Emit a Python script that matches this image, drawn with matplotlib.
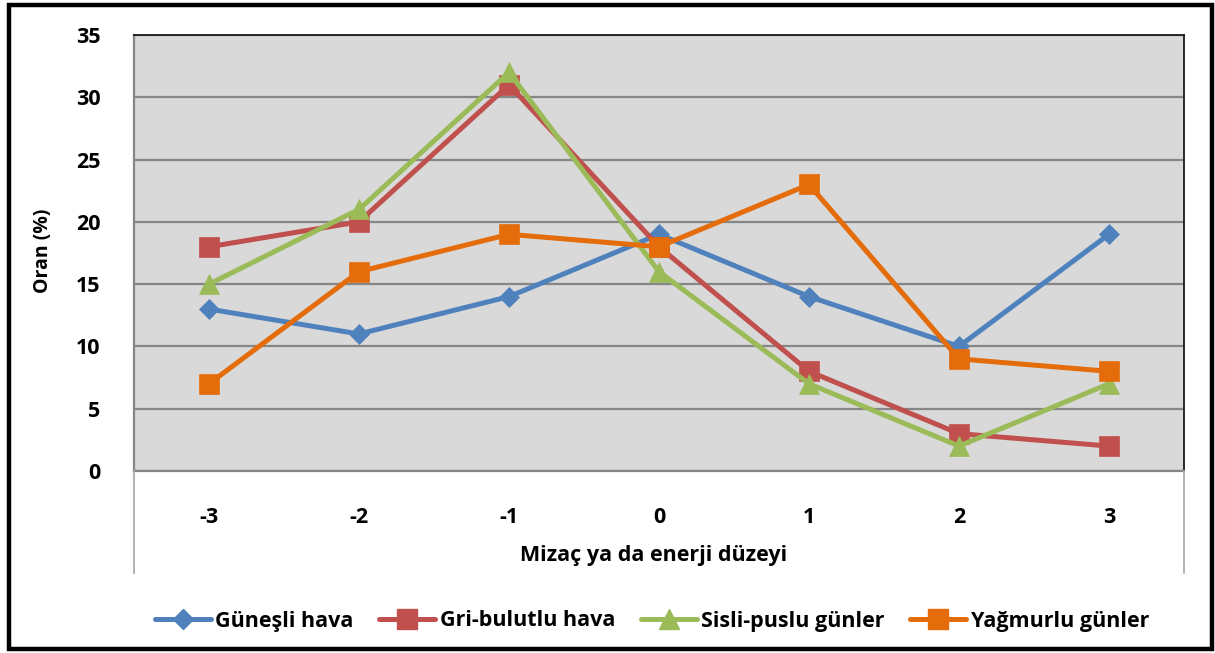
import matplotlib
matplotlib.use("Agg")
import matplotlib.pyplot as plt
from matplotlib.patches import Rectangle
from matplotlib.lines import Line2D

# Data
levels = ["-3", "-2", "-1", "0", "1", "2", "3"]
gunesli = [13, 11, 14, 19, 14, 10, 19]
gri_bulutlu = [18, 20, 31, 18, 8, 3, 2]
sisli_puslu = [15, 21, 32, 16, 7, 2, 7]
yagmurlu = [7, 16, 19, 18, 23, 9, 8]
series_names = ["Güneşli hava", "Gri-bulutlu hava", "Sisli-puslu günler", "Yağmurlu günler"]
y_ticks = [0, 5, 10, 15, 20, 25, 30, 35]
x_title = "Mizaç ya da enerji düzeyi"
y_title = "Oran (%)"

colors = ["#4F81BD", "#C0504D", "#9BBB59", "#E46C0A"]
markers = ["D", "s", "^", "s"]
msizes = [10.5, 14, 14.5, 14]

plt.rcParams["font.family"] = ["Open Sans", "DejaVu Sans"]
plt.rcParams["font.weight"] = "bold"
FS = 15.5

W, H = 1215, 653
fig = plt.figure(figsize=(W / 100, H / 100), dpi=100)
fig.patch.set_facecolor("white")

left, right, top, bottom = 134, 1184, 35, 471
ax = fig.add_axes([left / W, (H - bottom) / H, (right - left) / W, (bottom - top) / H])
ax.set_facecolor("#D9D9D9")

x = list(range(len(levels)))
for vals, name, c, m, ms in zip([gunesli, gri_bulutlu, sisli_puslu, yagmurlu],
                                series_names, colors, markers, msizes):
    ax.plot(x, vals, color=c, lw=3.6, marker=m, markersize=ms,
            markerfacecolor=c, markeredgecolor=c, markeredgewidth=0.5,
            label=name, solid_joinstyle="round", solid_capstyle="round", zorder=3)

ax.set_xlim(-0.5, len(levels) - 0.5)
ax.set_ylim(0, 35)
ax.set_yticks(y_ticks)
ax.set_yticklabels([str(t) for t in y_ticks])
ax.set_xticks(x)
ax.set_xticklabels(levels)
ax.tick_params(axis="both", length=0, labelsize=FS)
ax.tick_params(axis="y", pad=24)
ax.tick_params(axis="x", pad=26)
for t in ax.get_xticklabels() + ax.get_yticklabels():
    t.set_fontweight("bold")

ax.grid(axis="y", color="#868686", lw=1.6, zorder=1)
ax.set_axisbelow(True)
ax.spines["top"].set_color("#1a1a1a")
ax.spines["top"].set_linewidth(1.3)
ax.spines["right"].set_color("#1a1a1a")
ax.spines["right"].set_linewidth(1.3)
ax.spines["left"].set_color("#868686")
ax.spines["left"].set_linewidth(1.6)
ax.spines["bottom"].set_color("#868686")
ax.spines["bottom"].set_linewidth(1.6)

# Axis titles
fig.text(654 / W, (H - 556) / H, x_title, ha="center", va="center",
         fontsize=FS, fontweight="bold")
fig.text(43 / W, (H - 251) / H, y_title, ha="center", va="center",
         rotation=90, fontsize=14, fontweight="bold")

# Category area side lines below the plot area
for xp in (left, right):
    fig.add_artist(Line2D([xp / W, xp / W], [(H - bottom) / H, (H - 573) / H],
                          transform=fig.transFigure, color="#A6A6A6", lw=1.2))

# Legend
handles = [Line2D([0], [0], color=c, lw=3.6, marker=m, markersize=ms,
                  markerfacecolor=c, markeredgecolor=c,
                  solid_capstyle="round")
           for c, m, ms in zip(colors, markers, msizes)]
leg = fig.legend(handles, series_names, loc="center", ncol=4,
                 bbox_to_anchor=(652 / W, (H - 621) / H), frameon=False,
                 prop={"size": FS, "weight": "bold"}, handlelength=2.6,
                 handletextpad=0.2, columnspacing=1.2, borderaxespad=0)

# Outer frame
fig.add_artist(Rectangle((8.5 / W, 4.5 / H), (1211.5 - 8.5) / W, (648.5 - 4.5) / H,
                         transform=fig.transFigure, fill=False,
                         edgecolor="black", lw=3.2))

fig.savefig("out.png", dpi=100, facecolor="white")
